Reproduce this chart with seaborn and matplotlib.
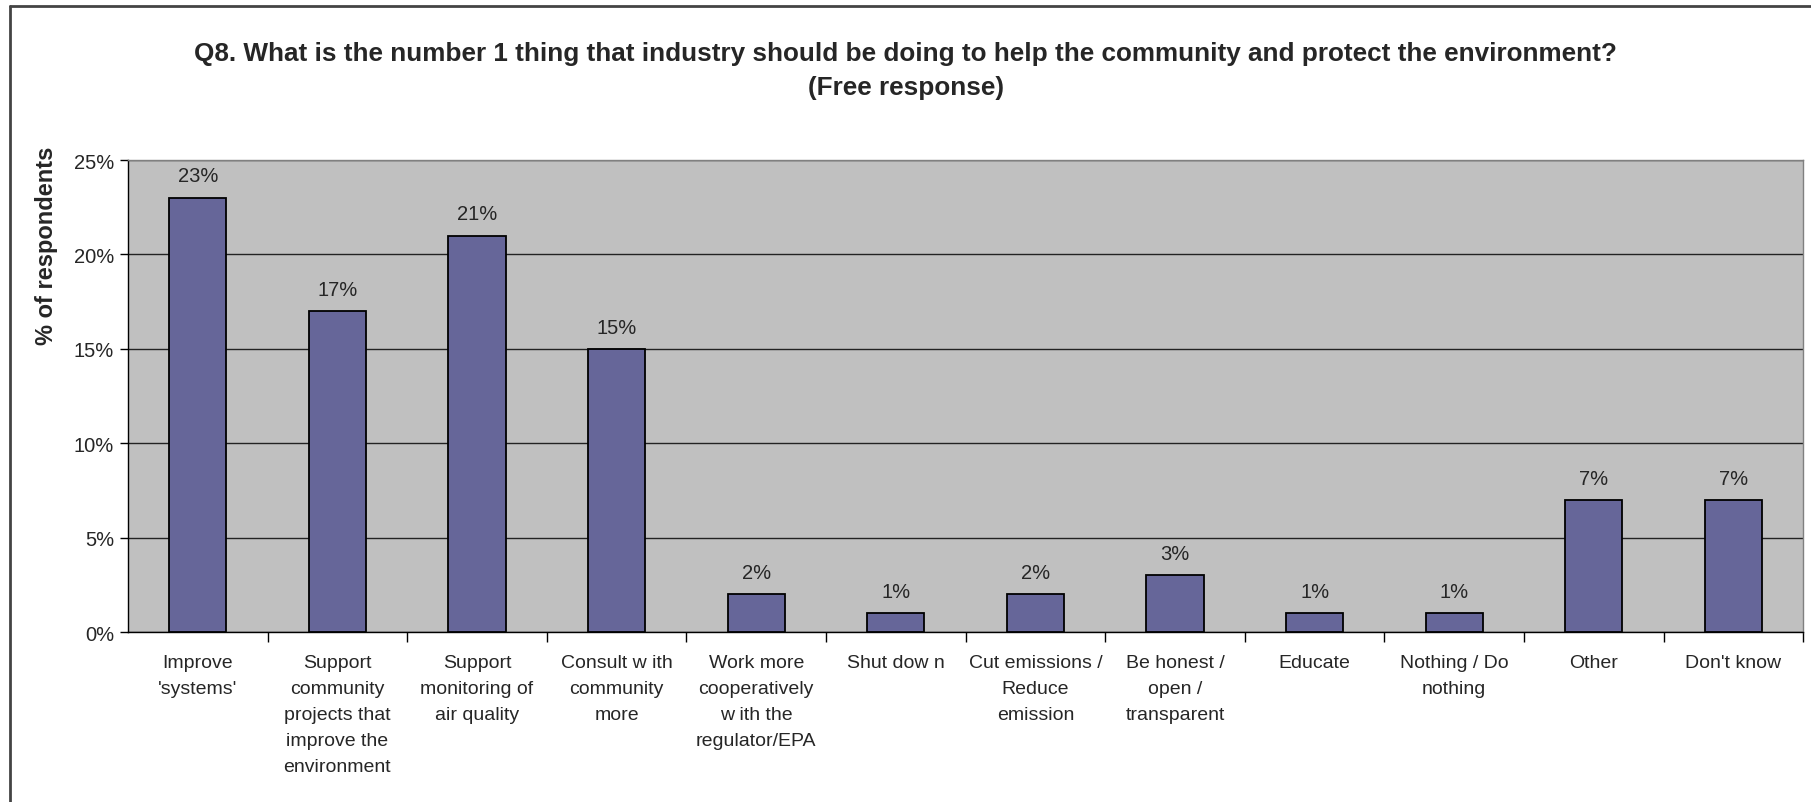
import matplotlib
matplotlib.use("Agg")
import matplotlib.pyplot as plt
import seaborn as sns
import pandas as pd
from matplotlib.lines import Line2D

categories = [
    "Improve\n'systems'",
    "Support\ncommunity\nprojects that\nimprove the\nenvironment",
    "Support\nmonitoring of\nair quality",
    "Consult w ith\ncommunity\nmore",
    "Work more\ncooperatively\nw ith the\nregulator/EPA",
    "Shut dow n",
    "Cut emissions /\nReduce\nemission",
    "Be honest /\nopen /\ntransparent",
    "Educate",
    "Nothing / Do\nnothing",
    "Other",
    "Don't know",
]
values = [23, 17, 21, 15, 2, 1, 2, 3, 1, 1, 7, 7]
yticks = [0, 5, 10, 15, 20, 25]
ytick_labels = ["0%", "5%", "10%", "15%", "20%", "25%"]

df = pd.DataFrame({"cat": categories, "pct": values})

sns.set_style("white")
plt.rcParams["font.family"] = ["Liberation Sans", "DejaVu Sans"]

fig = plt.figure(figsize=(18.11, 8.03), dpi=100)
ax = fig.add_axes([0.0707, 0.2117, 0.9250, 0.5878])
ax.set_facecolor("#C0C0C0")

sns.barplot(data=df, x="cat", y="pct", color="#666699", width=0.41,
            edgecolor="black", linewidth=1.3, saturation=1, ax=ax, zorder=3)

ax.set_ylim(0, 25)
ax.set_xlim(-0.5, len(categories) - 0.5)
ax.set_yticks(yticks)
ax.set_yticklabels(ytick_labels, fontsize=14.5)
ax.yaxis.grid(True, color="#222222", linewidth=1)
ax.set_axisbelow(True)

# value labels
for i, v in enumerate(values):
    ax.text(i, v + 0.65, f"{v}%", ha="center", va="bottom", fontsize=14.5)

# x labels centered on bars, tick marks between categories
ax.set_xticks(range(len(categories)))
ax.set_xticklabels(categories, fontsize=14, linespacing=1.68, va="top")
ax.tick_params(axis="x", length=0, pad=16)
ax.set_xticks([i + 0.5 for i in range(len(categories))], minor=True)
ax.tick_params(axis="x", which="minor", length=7, width=1, color="black", direction="out")
ax.tick_params(axis="y", length=6, width=1, color="black", direction="out", pad=4)
ax.xaxis.set_ticks_position("bottom")
ax.yaxis.set_ticks_position("left")

ax.set_xlabel("")
ax.set_ylabel("% of respondents", fontsize=17, fontweight="bold")
ax.yaxis.set_label_coords(-0.042, 0.82)

for side in ["left", "bottom"]:
    ax.spines[side].set_color("black")
    ax.spines[side].set_linewidth(1)
for side in ["top", "right"]:
    ax.spines[side].set_color("#808080")
    ax.spines[side].set_linewidth(1)

fig.suptitle("Q8. What is the number 1 thing that industry should be doing to help the community and protect the environment?\n(Free response)",
             fontsize=18.8, fontweight="bold", y=0.948, linespacing=1.55)

# outer chart border
fig.add_artist(Line2D([10 / 1811, 10 / 1811], [0, 1 - 7 / 803], color="#444444", linewidth=2, transform=fig.transFigure))
fig.add_artist(Line2D([10 / 1811, 1], [1 - 7 / 803, 1 - 7 / 803], color="#444444", linewidth=2, transform=fig.transFigure))

fig.savefig("out.png", dpi=100)
